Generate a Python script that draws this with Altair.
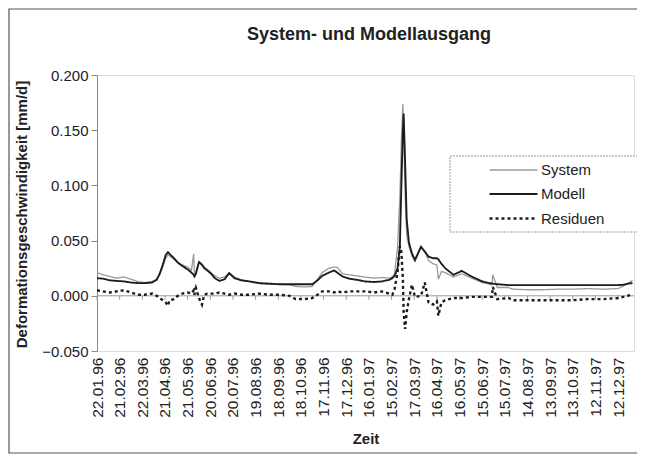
import altair as alt
import pandas as pd

# day offsets from 22.01.1996
days = [0, 8, 17, 26, 36, 45, 54, 63, 73, 79, 83, 87, 91, 94, 96, 102, 107, 113, 120, 125,
        128, 129, 131, 135, 139, 142, 146, 151, 156, 162, 169, 175, 182, 191, 202, 215, 228,
        241, 255, 263, 274, 285, 292, 298, 307, 314, 318, 325, 334, 344, 355, 367, 377, 387,
        391, 394, 398, 401, 403, 405, 406, 408, 410, 413, 417, 421, 429, 434, 439, 445, 450,
        452, 456, 461, 472, 483, 496, 510, 523, 524, 530, 545, 550, 570, 590, 610, 630, 650,
        670, 690, 697, 703, 709]

system = [0.021, 0.019, 0.0175, 0.016, 0.017, 0.015, 0.013, 0.012, 0.013, 0.015, 0.019, 0.026,
          0.034, 0.037, 0.036, 0.033, 0.030, 0.028, 0.026, 0.023, 0.038, 0.019, 0.022, 0.031,
          0.029, 0.026, 0.024, 0.021, 0.018, 0.016, 0.017, 0.021, 0.017, 0.0145, 0.013, 0.011,
          0.0105, 0.0105, 0.010, 0.0085, 0.008, 0.0085, 0.015, 0.021, 0.025, 0.026, 0.026,
          0.020, 0.019, 0.018, 0.017, 0.016, 0.0165, 0.016, 0.017, 0.020, 0.045, 0.090, 0.140,
          0.174, 0.150, 0.090, 0.055, 0.045, 0.036, 0.031, 0.044, 0.040, 0.032, 0.029, 0.028,
          0.015, 0.022, 0.021, 0.017, 0.020, 0.016, 0.012, 0.010, 0.019, 0.0075, 0.0075, 0.006,
          0.0055, 0.0055, 0.006, 0.006, 0.0065, 0.006, 0.0065, 0.009, 0.011, 0.014]

modell = [0.016, 0.0155, 0.014, 0.0135, 0.013, 0.012, 0.0115, 0.0115, 0.012, 0.0145, 0.020, 0.028,
          0.037, 0.0395, 0.038, 0.034, 0.030, 0.027, 0.024, 0.021, 0.019, 0.0175, 0.020, 0.0305,
          0.028, 0.025, 0.023, 0.020, 0.016, 0.0135, 0.015, 0.0205, 0.016, 0.014, 0.013, 0.0115,
          0.011, 0.0105, 0.0105, 0.0105, 0.0105, 0.0105, 0.014, 0.018, 0.021, 0.023, 0.021,
          0.0175, 0.0155, 0.0145, 0.013, 0.0125, 0.013, 0.0145, 0.016, 0.018, 0.025, 0.045, 0.100,
          0.150, 0.165, 0.120, 0.070, 0.048, 0.0385, 0.0325, 0.0445, 0.040, 0.0355, 0.034, 0.034,
          0.033, 0.029, 0.025, 0.019, 0.0226, 0.0175, 0.013, 0.011, 0.011, 0.0105, 0.0097, 0.0097,
          0.0097, 0.0097, 0.0097, 0.0097, 0.0097, 0.0097, 0.0097, 0.0100, 0.011, 0.0115]

residuen = [0.005, 0.004, 0.003, 0.004, 0.005, 0.003, 0.001, 0.001, 0.002, 0.000, -0.002, -0.004,
            -0.006, -0.009, -0.004, -0.003, 0.000, 0.002, 0.003, 0.002, 0.005, 0.001, 0.007, -0.002,
            -0.008, 0.001, 0.002, 0.002, 0.002, 0.003, 0.002, 0.001, 0.002, 0.001, 0.001, 0.002,
            0.001, 0.001, 0.000, -0.003, -0.003, -0.002, 0.001, 0.004, 0.004, 0.003, 0.004, 0.003,
            0.004, 0.004, 0.004, 0.003, 0.004, 0.002, 0.001, 0.006, 0.022, 0.045, 0.040, 0.015,
            -0.015, -0.030, -0.015, -0.003, 0.010, -0.001, 0.000, 0.012, -0.006, -0.008, -0.005,
            -0.018, -0.006, -0.004, -0.002, -0.002, -0.001, -0.001, -0.001, 0.008, -0.003, -0.002,
            -0.004, -0.004, -0.004, -0.004, -0.004, -0.003, -0.003, -0.002, -0.001, 0.000, 0.002]

tick_labels = ["22.01.96", "21.02.96", "22.03.96", "21.04.96", "21.05.96", "20.06.96",
               "20.07.96", "19.08.96", "18.09.96", "18.10.96", "17.11.96", "17.12.96",
               "16.01.97", "15.02.97", "17.03.97", "16.04.97", "16.05.97", "15.06.97",
               "15.07.97", "14.08.97", "13.09.97", "13.10.97", "12.11.97", "12.12.97"]

series_names = ["System", "Modell", "Residuen"]
y_ticks = [-0.05, 0.0, 0.05, 0.10, 0.15, 0.20]
title_text = "System- und Modellausgang"

FONT = "Liberation Sans"
start = pd.Timestamp("1996-01-22")
dates = [(start + pd.Timedelta(days=d)).strftime("%Y-%m-%dT%H:%M:%S") for d in days]

rows = []
for name, vals in zip(series_names, [system, modell, residuen]):
    for dt, v in zip(dates, vals):
        rows.append({"datum": dt, "wert": v, "Serie": name})
df = pd.DataFrame(rows)


def to_dt(s):
    dd, mm, yy = s.split(".")
    return alt.DateTime(year=1900 + int(yy), month=int(mm), date=int(dd))


tick_vals = [to_dt(s) for s in tick_labels]
tick_df = pd.DataFrame({
    "datum": [pd.Timestamp(year=1900 + int(s[6:8]), month=int(s[3:5]), day=int(s[0:2])).strftime("%Y-%m-%dT%H:%M:%S") for s in tick_labels],
    "y0": [0.0] * len(tick_labels),
    "y1": [-0.0036] * len(tick_labels),
})

x_scale = alt.Scale(domain=[alt.DateTime(year=1996, month=1, date=22),
                            alt.DateTime(year=1998, month=1, date=2)])
y_scale = alt.Scale(domain=[-0.05, 0.2], nice=False, zero=False)

x_axis = alt.Axis(values=tick_vals, format="%d.%m.%y", labelAngle=-90, domain=False,
                  ticks=False, grid=False, labelPadding=6, labelFontSize=15.5,
                  labelColor="#222", labelFont=FONT, title="Zeit", titleFontSize=15,
                  titleFont=FONT, titleFontWeight="bold", titleColor="#222", titlePadding=14,
                  labelOverlap=False, labelFlush=False, labelBound=False)
y_axis = alt.Axis(values=y_ticks, format=".3f", tickSize=6, domainColor="#888",
                  tickColor="#888", grid=False, labelFontSize=15, labelFont=FONT,
                  labelColor="#222", labelPadding=3,
                  title="Deformationsgeschwindigkeit [mm/d]", titleFontSize=15,
                  titleFont=FONT, titleFontWeight="bold", titleColor="#222",
                  titleX=-76, titleY=139, titleAlign="center", titleBaseline="middle",
                  titleAngle=-90)

legend = alt.Legend(orient="none", legendX=403, legendY=82, title=None,
                    symbolType="M-2,0H2", symbolSize=576, labelFontSize=15, labelFont=FONT,
                    labelColor="#222", labelOffset=14, rowPadding=3, padding=0)

frame = alt.Chart(pd.DataFrame({"a": [0]})).mark_rect(
    fill=None, stroke="#555", strokeWidth=1.2
).encode(x=alt.value(-88), x2=alt.value(544), y=alt.value(-66), y2=alt.value(378))

title_mark = alt.Chart(pd.DataFrame({"t": [title_text]})).mark_text(
    font=FONT, fontSize=18, fontWeight="bold", color="#222", align="center",
    baseline="alphabetic"
).encode(text="t:N", x=alt.value(272), y=alt.value(-35))

zero_line = alt.Chart(pd.DataFrame({"y": [0.0]})).mark_rule(
    color="#c0849a", strokeWidth=1
).encode(y=alt.Y("y:Q", scale=y_scale, axis=y_axis))

zero_ticks = alt.Chart(tick_df).mark_rule(color="#999", strokeWidth=1).encode(
    x=alt.X("datum:T", scale=x_scale, axis=x_axis),
    y=alt.Y("y0:Q", scale=y_scale, axis=y_axis),
    y2="y1:Q",
)

lines = alt.Chart(df).mark_line(interpolate="linear").encode(
    x=alt.X("datum:T", scale=x_scale, axis=x_axis),
    y=alt.Y("wert:Q", scale=y_scale, axis=y_axis),
    color=alt.Color("Serie:N", scale=alt.Scale(domain=series_names,
                                                range=["#9a9a9a", "#1c1c1c", "#1c1c1c"]),
                    legend=legend),
    strokeDash=alt.StrokeDash("Serie:N", scale=alt.Scale(domain=series_names,
                                                         range=[[1, 0], [1, 0], [3, 3]]),
                              legend=legend),
    strokeWidth=alt.StrokeWidth("Serie:N", scale=alt.Scale(domain=series_names,
                                                           range=[1.3, 2.4, 1.2]),
                                legend=legend),
)

legend_box = alt.Chart(pd.DataFrame({"a": [0]})).mark_rect(
    fill="white", stroke="#999", strokeWidth=1, strokeDash=[2, 1]
).encode(x=alt.value(353), x2=alt.value(541), y=alt.value(81), y2=alt.value(157))

chart = alt.layer(frame, title_mark, zero_line, zero_ticks, lines, legend_box).properties(
    width=537,
    height=276,
    autosize=alt.AutoSizeParams(type="none"),
    padding={"left": 89, "top": 67, "right": 3, "bottom": 103},
).configure_view(stroke=None).configure(font=FONT, background="white")

chart.save("out.html", embed_options={"renderer": "svg", "actions": False})
